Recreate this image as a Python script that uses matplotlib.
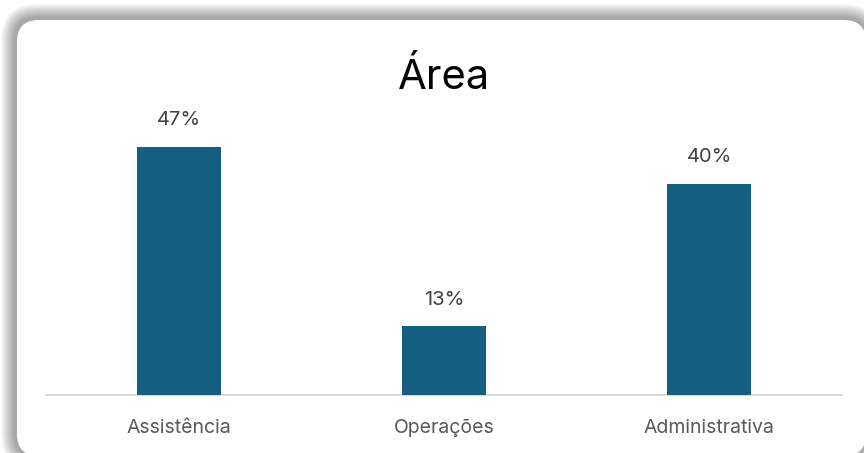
import matplotlib
matplotlib.use("Agg")
import matplotlib.pyplot as plt
from matplotlib.patches import FancyBboxPatch
from matplotlib.transforms import Affine2D

# data
areas = ["Assistência", "Operações", "Administrativa"]
shares = [47, 13, 40]
bar_color = "#156082"

W, H = 864, 453
plt.rcParams["font.family"] = ["Inter", "DejaVu Sans"]

fig = plt.figure(figsize=(W / 100, H / 100), dpi=100)
fig.patch.set_facecolor("white")

# pixel space with origin top-left
px = Affine2D().scale(1 / W, -1 / H).translate(0, 1) + fig.transFigure


def card(x0, y0, x1, y1, r, **kw):
    p = FancyBboxPatch((x0, y0), x1 - x0, y1 - y0,
                       boxstyle=f"round,pad=0,rounding_size={r}",
                       transform=px, zorder=0, **kw)
    fig.patches.append(p)


# soft shadow behind the card
n = 14
for i in range(n, 0, -1):
    card(17 - 2 - i, 20 - 2 - i, 866 + i, 456 + i, 22 + i,
         facecolor="black", edgecolor="none", alpha=0.026)
card(17, 20, 866, 456, 22, facecolor="white", edgecolor="none")

# plot area
ax_left, ax_right = 46, 842
ax_top, ax_bot = 132, 395
ax = fig.add_axes([ax_left / W, 1 - ax_bot / H,
                   (ax_right - ax_left) / W, (ax_bot - ax_top) / H])
ax.set_facecolor("none")
ax.set_zorder(5)

x = range(len(areas))
bars = ax.bar(x, shares, width=0.317, color=bar_color, zorder=3)
ax.set_xlim(-0.5, len(areas) - 0.5)
ax.set_ylim(0, 49.8)

for b, v in zip(bars, shares):
    ax.annotate(f"{v}%", (b.get_x() + b.get_width() / 2, v),
                xytext=(0, 12.5), textcoords="offset points",
                ha="center", va="bottom", fontsize=14.5, color="#404040")

for s in ["top", "right", "left"]:
    ax.spines[s].set_visible(False)
ax.spines["bottom"].set_color("#d9d9d9")
ax.spines["bottom"].set_linewidth(1.4)
ax.set_yticks([])
ax.set_xticks(list(x))
ax.set_xticklabels(areas, fontsize=14, color="#595959")
ax.tick_params(axis="x", length=0, pad=17)

fig.text((ax_left + ax_right) / 2 / W, 1 - 89 / H, "Área",
         ha="center", va="baseline", fontsize=30, color="black", zorder=6)

fig.savefig("out.png", dpi=100, facecolor="white")
